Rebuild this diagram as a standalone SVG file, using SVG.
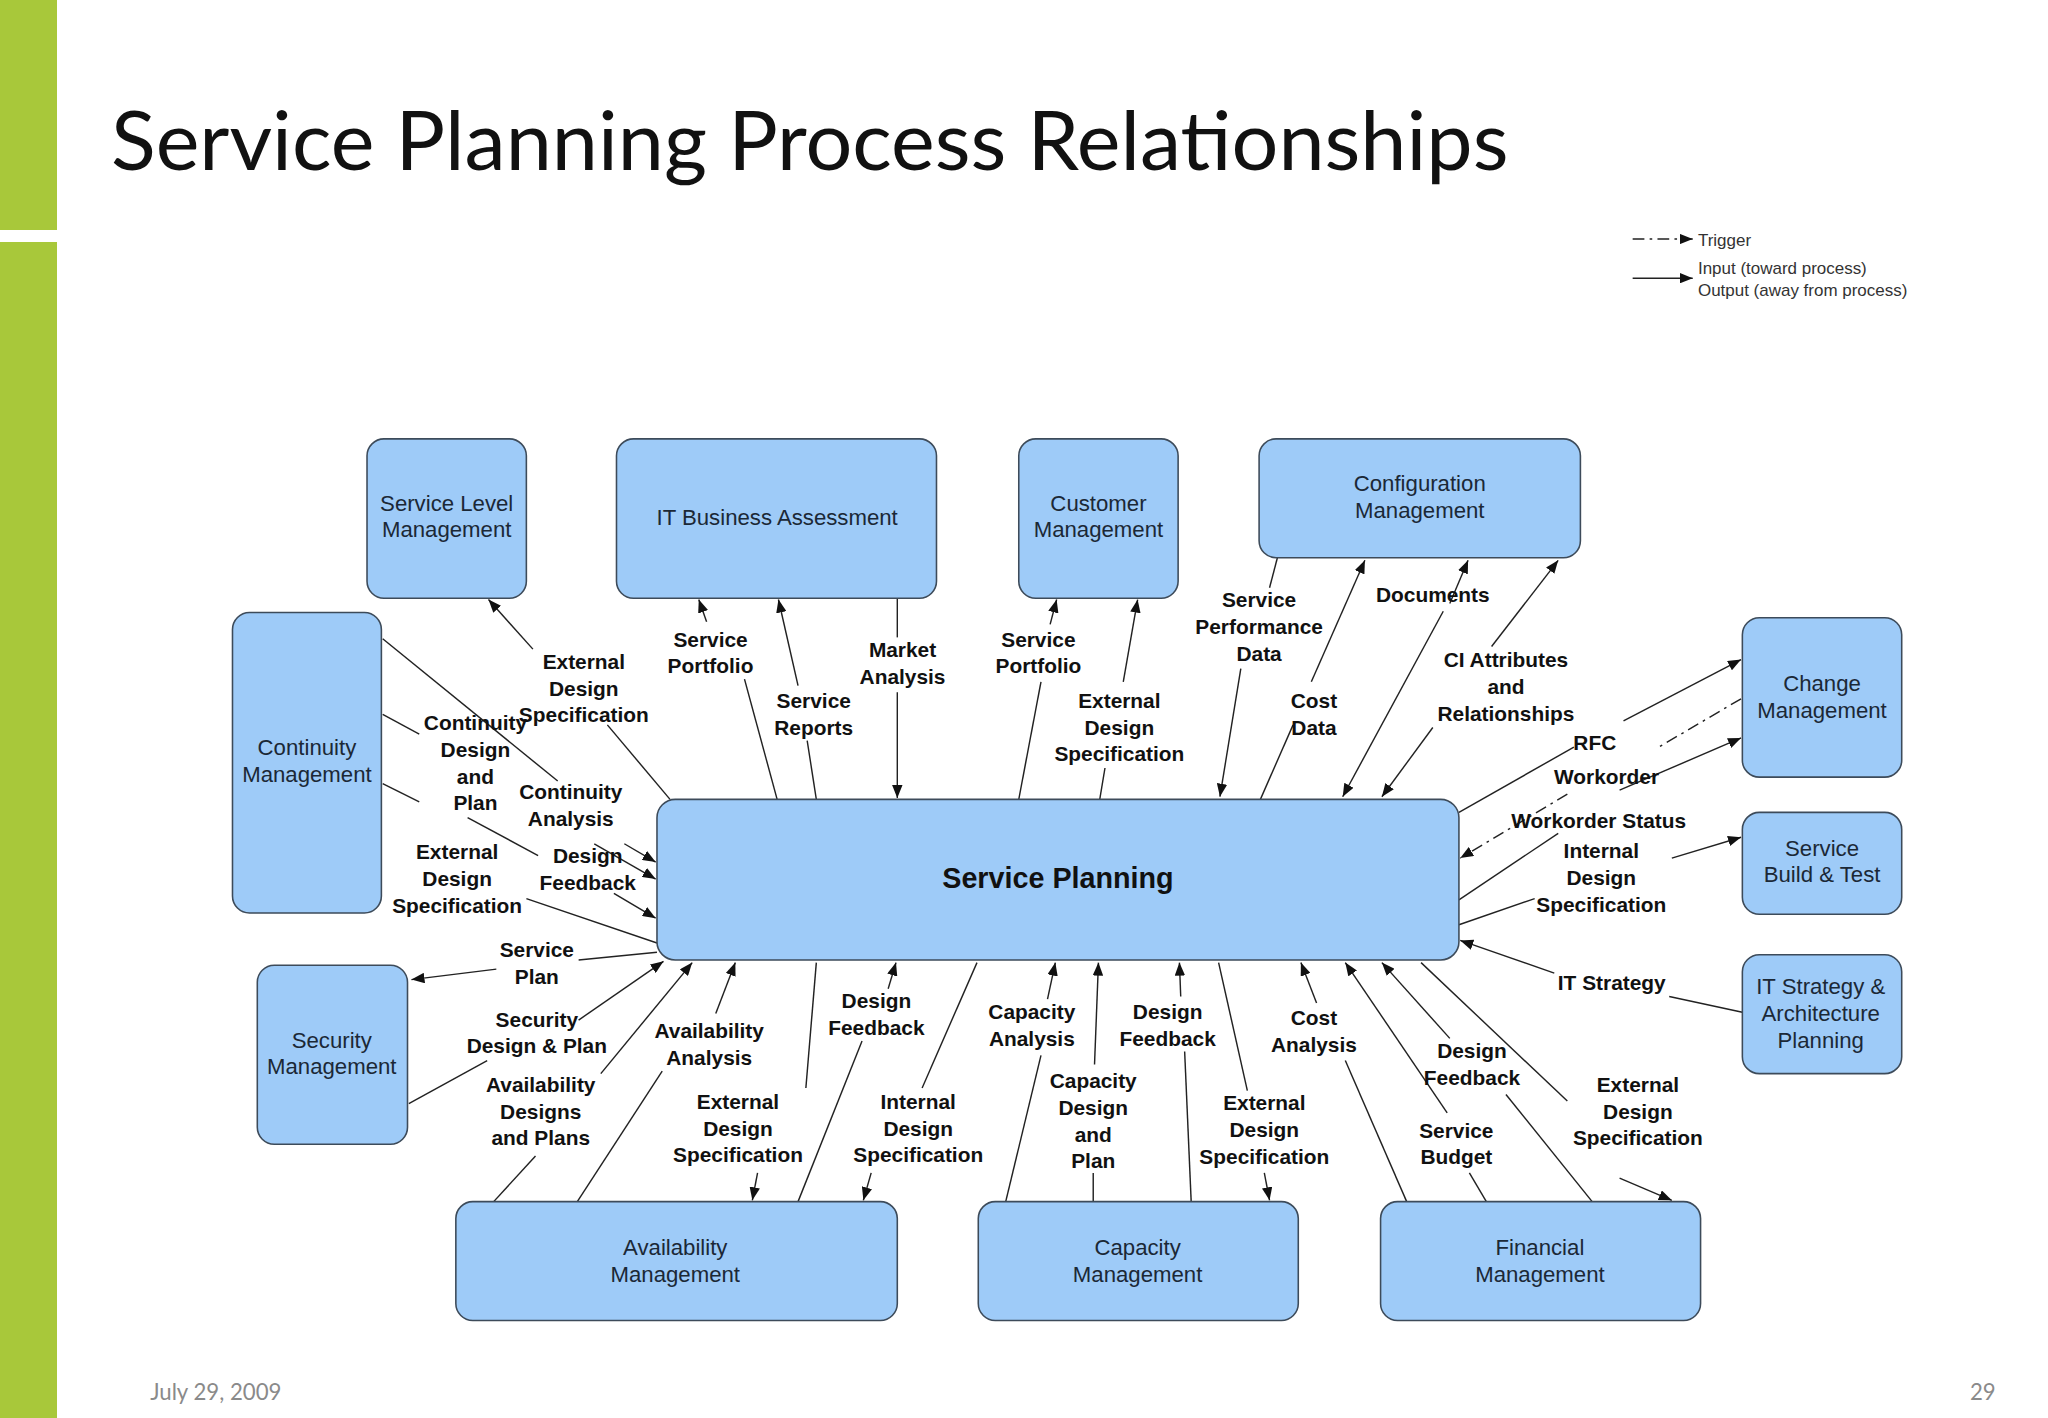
<svg xmlns="http://www.w3.org/2000/svg" width="2048" height="1418" viewBox="0 0 2048 1418">
<defs>
<style>
.n{fill:#9ecbf8;stroke:#3d4b5a;stroke-width:1.2}
.nt{font-family:"Liberation Sans",Arial,sans-serif;font-size:17px;fill:#1b2836;text-anchor:middle}
.l{font-family:"Liberation Sans",Arial,sans-serif;font-size:16px;font-weight:bold;fill:#111;text-anchor:middle}
.c{stroke:#222;stroke-width:1.1;fill:none}
.a{marker-end:url(#ah)}
.d{stroke-dasharray:9 4 2 4}
.lg{font-family:"Liberation Sans",Arial,sans-serif;font-size:13px;fill:#333}
</style>
<marker id="ah" viewBox="0 0 10 8" refX="10" refY="4" markerWidth="10" markerHeight="8" markerUnits="userSpaceOnUse" orient="auto"><path d="M0,0 L10,4 L0,8 z" fill="#111"/></marker>
</defs>
<rect width="2048" height="1418" fill="#fff"/>
<rect x="0" y="0" width="57" height="230" fill="#a8c83a"/>
<rect x="0" y="242" width="57" height="1176" fill="#a8c83a"/>
<g transform="scale(1.30612)">
<text x="85" y="130" font-family="Lato,'Open Sans',sans-serif" font-size="62" fill="#111" textLength="1070" lengthAdjust="spacingAndGlyphs">Service Planning Process Relationships</text>
<text x="115" y="1072" font-family="Lato,sans-serif" font-size="17" fill="#8a8a8a">July 29, 2009</text>
<text x="1528" y="1072" font-family="Lato,sans-serif" font-size="17" fill="#8a8a8a" text-anchor="end">29</text>
<g id="legend">
<line class="c d a" x1="1250" y1="183" x2="1296" y2="183"/>
<line class="c a" x1="1250" y1="213" x2="1296" y2="213"/>
<text class="lg" x="1300" y="188">Trigger</text>
<text class="lg" x="1300" y="210">Input (toward process)</text>
<text class="lg" x="1300" y="227">Output (away from process)</text>
</g>
<g id="connectors">
<line class="c" x1="513" y1="612" x2="465" y2="555"/><line class="c a" x1="408" y1="497" x2="374" y2="459"/>
<line class="c" x1="293" y1="489" x2="427" y2="598"/><line class="c a" x1="478" y1="646" x2="502" y2="660"/>
<line class="c a" x1="455" y1="646" x2="502" y2="673"/>
<line class="c" x1="293" y1="547" x2="321" y2="562"/><line class="c" x1="358" y1="626" x2="412" y2="655"/><line class="c a" x1="470" y1="684" x2="502" y2="703"/>
<line class="c" x1="293" y1="600" x2="321" y2="614"/><line class="c" x1="403" y1="688" x2="503" y2="722"/>
<line class="c" x1="503" y1="729" x2="443" y2="735"/><line class="c a" x1="380" y1="742" x2="315" y2="750"/>
<line class="c" x1="313" y1="845" x2="373" y2="812"/><line class="c a" x1="443" y1="781" x2="508" y2="736"/>
<line class="c" x1="378" y1="920" x2="410" y2="885"/><line class="c a" x1="460" y1="822" x2="530" y2="737"/>
<line class="c" x1="442" y1="920" x2="507" y2="820"/><line class="c a" x1="548" y1="776" x2="563" y2="737"/>
<line class="c" x1="625" y1="737" x2="617" y2="833"/><line class="c a" x1="580" y1="898" x2="576" y2="919"/>
<line class="c" x1="611" y1="920" x2="660" y2="797"/><line class="c a" x1="680" y1="757" x2="686" y2="737"/>
<line class="c" x1="748" y1="737" x2="706" y2="833"/><line class="c a" x1="667" y1="898" x2="661" y2="919"/>
<line class="c" x1="770" y1="920" x2="797" y2="808"/><line class="c a" x1="802" y1="765" x2="808" y2="737"/>
<line class="c" x1="837" y1="920" x2="837" y2="898"/><line class="c a" x1="838" y1="815" x2="841" y2="737"/>
<line class="c" x1="912" y1="920" x2="907" y2="805"/><line class="c a" x1="904" y1="763" x2="903" y2="737"/>
<line class="c" x1="933" y1="737" x2="955" y2="835"/><line class="c a" x1="968" y1="898" x2="972" y2="919"/>
<line class="c" x1="1077" y1="920" x2="1030" y2="812"/><line class="c a" x1="1008" y1="768" x2="996" y2="737"/>
<line class="c" x1="1138" y1="920" x2="1125" y2="898"/><line class="c a" x1="1108" y1="852" x2="1030" y2="737"/>
<line class="c" x1="1219" y1="920" x2="1153" y2="838"/><line class="c a" x1="1110" y1="795" x2="1058" y2="737"/>
<line class="c" x1="1088" y1="737" x2="1200" y2="843"/><line class="c a" x1="1240" y1="902" x2="1280" y2="919"/>
<line class="c" x1="1334" y1="775" x2="1278" y2="763"/><line class="c a" x1="1190" y1="745" x2="1118" y2="720"/>
<line class="c" x1="1117" y1="708" x2="1175" y2="688"/><line class="c a" x1="1280" y1="657" x2="1333" y2="641"/>
<line class="c" x1="1117" y1="689" x2="1193" y2="638"/><line class="c a" x1="1240" y1="605" x2="1333" y2="565"/>
<line class="c d" x1="1333" y1="535" x2="1270" y2="572"/><line class="c d a" x1="1200" y1="608" x2="1118" y2="657"/>
<line class="c" x1="1117" y1="622" x2="1205" y2="572"/><line class="c a" x1="1243" y1="552" x2="1333" y2="505"/>
<line class="c a" x1="1142" y1="495" x2="1193" y2="429"/><line class="c a" x1="1097" y1="557" x2="1058" y2="610"/>
<line class="c a" x1="1105" y1="468" x2="1028" y2="610"/><line class="c a" x1="1110" y1="462" x2="1124" y2="429"/>
<line class="c" x1="965" y1="612" x2="990" y2="555"/><line class="c a" x1="1004" y1="522" x2="1045" y2="429"/>
<line class="c" x1="978" y1="427" x2="972" y2="450"/><line class="c a" x1="950" y1="512" x2="934" y2="610"/>
<line class="c" x1="842" y1="612" x2="846" y2="588"/><line class="c a" x1="860" y1="522" x2="871" y2="459"/>
<line class="c" x1="780" y1="612" x2="797" y2="522"/><line class="c a" x1="804" y1="478" x2="809" y2="459"/>
<line class="c" x1="687" y1="458" x2="687" y2="488"/><line class="c a" x1="687" y1="530" x2="687" y2="611"/>
<line class="c" x1="625" y1="612" x2="618" y2="567"/><line class="c a" x1="611" y1="525" x2="596" y2="459"/>
<line class="c" x1="595" y1="612" x2="570" y2="520"/><line class="c a" x1="541" y1="476" x2="535" y2="459"/>
</g>
<g id="labels">
<text class="l" x="447" y="512">External<tspan x="447" dy="20.5">Design</tspan><tspan x="447" dy="20.5">Specification</tspan></text>
<text class="l" x="364" y="559">Continuity<tspan x="364" dy="20.5">Design</tspan><tspan x="364" dy="20.5">and</tspan><tspan x="364" dy="20.5">Plan</tspan></text>
<text class="l" x="437" y="612">Continuity<tspan x="437" dy="20.5">Analysis</tspan></text>
<text class="l" x="450" y="661">Design<tspan x="450" dy="20.5">Feedback</tspan></text>
<text class="l" x="350" y="658">External<tspan x="350" dy="20.5">Design</tspan><tspan x="350" dy="20.5">Specification</tspan></text>
<text class="l" x="411" y="733">Service<tspan x="411" dy="20.5">Plan</tspan></text>
<text class="l" x="411" y="786">Security<tspan x="411" dy="20.5">Design &amp; Plan</tspan></text>
<text class="l" x="414" y="836">Availability<tspan x="414" dy="20.5">Designs</tspan><tspan x="414" dy="20.5">and Plans</tspan></text>
<text class="l" x="543" y="795">Availability<tspan x="543" dy="20.5">Analysis</tspan></text>
<text class="l" x="565" y="849">External<tspan x="565" dy="20.5">Design</tspan><tspan x="565" dy="20.5">Specification</tspan></text>
<text class="l" x="671" y="772">Design<tspan x="671" dy="20.5">Feedback</tspan></text>
<text class="l" x="703" y="849">Internal<tspan x="703" dy="20.5">Design</tspan><tspan x="703" dy="20.5">Specification</tspan></text>
<text class="l" x="790" y="780">Capacity<tspan x="790" dy="20.5">Analysis</tspan></text>
<text class="l" x="837" y="833">Capacity<tspan x="837" dy="20.5">Design</tspan><tspan x="837" dy="20.5">and</tspan><tspan x="837" dy="20.5">Plan</tspan></text>
<text class="l" x="894" y="780">Design<tspan x="894" dy="20.5">Feedback</tspan></text>
<text class="l" x="968" y="850">External<tspan x="968" dy="20.5">Design</tspan><tspan x="968" dy="20.5">Specification</tspan></text>
<text class="l" x="1006" y="785">Cost<tspan x="1006" dy="20.5">Analysis</tspan></text>
<text class="l" x="1127" y="810">Design<tspan x="1127" dy="20.5">Feedback</tspan></text>
<text class="l" x="1115" y="871">Service<tspan x="1115" dy="20.5">Budget</tspan></text>
<text class="l" x="1254" y="836">External<tspan x="1254" dy="20.5">Design</tspan><tspan x="1254" dy="20.5">Specification</tspan></text>
<text class="l" x="1234" y="758">IT Strategy</text>
<text class="l" x="1226" y="657">Internal<tspan x="1226" dy="20.5">Design</tspan><tspan x="1226" dy="20.5">Specification</tspan></text>
<text class="l" x="1224" y="634">Workorder Status</text>
<text class="l" x="1230" y="600">Workorder</text>
<text class="l" x="1221" y="574">RFC</text>
<text class="l" x="1153" y="511">CI Attributes<tspan x="1153" dy="20.5">and</tspan><tspan x="1153" dy="20.5">Relationships</tspan></text>
<text class="l" x="1006" y="542">Cost<tspan x="1006" dy="20.5">Data</tspan></text>
<text class="l" x="1097" y="461">Documents</text>
<text class="l" x="964" y="465">Service<tspan x="964" dy="20.5">Performance</tspan><tspan x="964" dy="20.5">Data</tspan></text>
<text class="l" x="857" y="542">External<tspan x="857" dy="20.5">Design</tspan><tspan x="857" dy="20.5">Specification</tspan></text>
<text class="l" x="795" y="495">Service<tspan x="795" dy="20.5">Portfolio</tspan></text>
<text class="l" x="691" y="503">Market<tspan x="691" dy="20.5">Analysis</tspan></text>
<text class="l" x="623" y="542">Service<tspan x="623" dy="20.5">Reports</tspan></text>
<text class="l" x="544" y="495">Service<tspan x="544" dy="20.5">Portfolio</tspan></text>
</g>
<g id="slm"><rect class="n" x="281" y="336" width="122" height="122" rx="13"/><text class="nt" x="342" y="391">Service Level<tspan x="342" dy="20.5">Management</tspan></text></g>
<g id="itba"><rect class="n" x="472" y="336" width="245" height="122" rx="13"/><text class="nt" x="595" y="402">IT Business Assessment</text></g>
<g id="custm"><rect class="n" x="780" y="336" width="122" height="122" rx="13"/><text class="nt" x="841" y="391">Customer<tspan x="841" dy="20.5">Management</tspan></text></g>
<g id="confm"><rect class="n" x="964" y="336" width="246" height="91" rx="13"/><text class="nt" x="1087" y="376">Configuration<tspan x="1087" dy="20.5">Management</tspan></text></g>
<g id="contm"><rect class="n" x="178" y="469" width="114" height="230" rx="13"/><text class="nt" x="235" y="578">Continuity<tspan x="235" dy="20.5">Management</tspan></text></g>
<g id="chgm"><rect class="n" x="1334" y="473" width="122" height="122" rx="13"/><text class="nt" x="1395" y="529">Change<tspan x="1395" dy="20.5">Management</tspan></text></g>
<g id="sbt"><rect class="n" x="1334" y="622" width="122" height="78" rx="13"/><text class="nt" x="1395" y="655">Service<tspan x="1395" dy="20.5">Build &amp; Test</tspan></text></g>
<g id="itsap"><rect class="n" x="1334" y="731" width="122" height="91" rx="13"/><text class="nt" x="1394" y="761">IT Strategy &amp;<tspan x="1394" dy="20.5">Architecture</tspan><tspan x="1394" dy="20.5">Planning</tspan></text></g>
<g id="secm"><rect class="n" x="197" y="739" width="115" height="137" rx="13"/><text class="nt" x="254" y="802">Security<tspan x="254" dy="20.5">Management</tspan></text></g>
<g id="avm"><rect class="n" x="349" y="920" width="338" height="91" rx="13"/><text class="nt" x="517" y="961">Availability<tspan x="517" dy="20.5">Management</tspan></text></g>
<g id="capm"><rect class="n" x="749" y="920" width="245" height="91" rx="13"/><text class="nt" x="871" y="961">Capacity<tspan x="871" dy="20.5">Management</tspan></text></g>
<g id="finm"><rect class="n" x="1057" y="920" width="245" height="91" rx="13"/><text class="nt" x="1179" y="961">Financial<tspan x="1179" dy="20.5">Management</tspan></text></g>
<g id="sp"><rect class="n" x="503" y="612" width="614" height="123" rx="14"/><text x="810" y="680" font-family="'Liberation Sans',Arial,sans-serif" font-size="22" font-weight="bold" fill="#111" text-anchor="middle">Service Planning</text></g>
</g>
</svg>
